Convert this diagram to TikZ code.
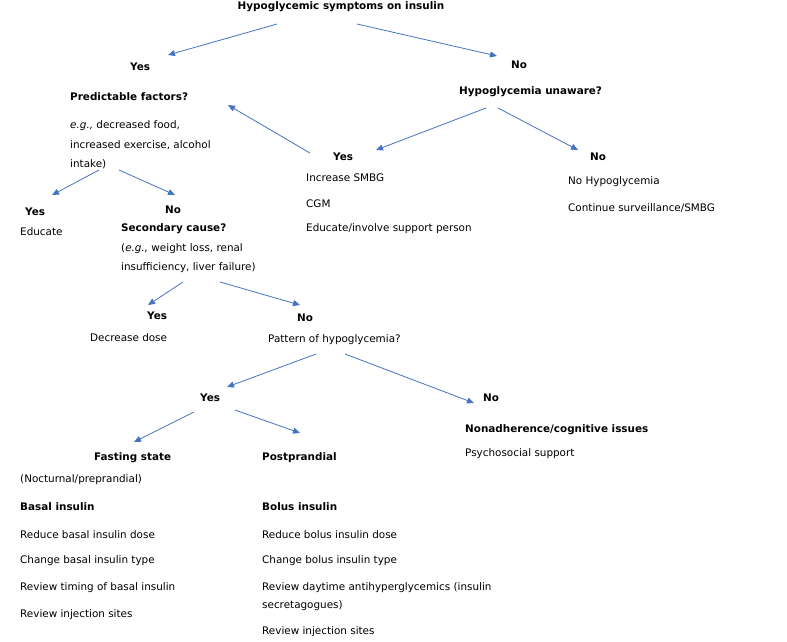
\documentclass[tikz,border=0pt]{standalone}
\usepackage{fontspec}
\setmainfont{DejaVu Sans}
\usetikzlibrary{arrows.meta}
\begin{document}
\begin{tikzpicture}[x=1pt,y=-1pt,
 t/.style={anchor=west,inner sep=0pt,font=\fontsize{10.4}{12}\selectfont},
 b/.style={t,font=\fontsize{10.4}{12}\selectfont\bfseries},
 ar/.style={draw={rgb,255:red,68;green,114;blue,196},line width=0.8pt,-{Triangle[length=7pt,width=6pt]}}]
\useasboundingbox (0,0) rectangle (787,641);
\node[b,anchor=center] (title) at (341,7) {Hypoglycemic symptoms on insulin};
\node[b] (y1) at (130,67) {Yes};
\node[b] (n1) at (511,65) {No};
\node[b] (pf) at (70,97) {Predictable factors?};
\node[t] (e1) at (70,126) {\textit{e.g.,} decreased food,};
\node[t] (e2) at (70,145) {increased exercise, alcohol};
\node[t] (e3) at (70,164) {intake)};
\node[b] (hu) at (459,92) {Hypoglycemia unaware?};
\node[b] (y2) at (333,157) {Yes};
\node[t] (s1) at (306,178) {Increase SMBG};
\node[t] (s2) at (306,204) {CGM};
\node[t] (s3) at (306,229) {Educate/involve support person};
\node[b] (n2) at (590,157) {No};
\node[t] (h1) at (568,182) {No Hypoglycemia};
\node[t] (h2) at (568,208) {Continue surveillance/SMBG};
\node[b] (y3) at (25,212) {Yes};
\node[t] (ed) at (20,232) {Educate};
\node[b] (n3) at (165,210) {No};
\node[b] (sc) at (121,229) {Secondary cause?};
\node[t] (c1) at (121,249) {(\textit{e.g.,} weight loss, renal};
\node[t] (c2) at (121,268) {insufficiency, liver failure)};
\node[b] (y4) at (147,316) {Yes};
\node[t] (dd) at (90,338) {Decrease dose};
\node[b] (n4) at (297,318) {No};
\node[t] (ph) at (268,340) {Pattern of hypoglycemia?};
\node[b] (y5) at (200,398) {Yes};
\node[b] (n5) at (483,398) {No};
\node[b] (fs) at (94,458) {Fasting state};
\node[t] (f1) at (20,480) {(Nocturnal/preprandial)};
\node[b] (f2) at (20,507) {Basal insulin};
\node[t] (f3) at (20,535) {Reduce basal insulin dose};
\node[t] (f4) at (20,561) {Change basal insulin type};
\node[t] (f5) at (20,588) {Review timing of basal insulin};
\node[t] (f6) at (20,615) {Review injection sites};
\node[b] (pp) at (262,458) {Postprandial};
\node[b] (p1) at (262,507) {Bolus insulin};
\node[t] (p2) at (262,535) {Reduce bolus insulin dose};
\node[t] (p3) at (262,561) {Change bolus insulin type};
\node[t] (p4) at (262,588) {Review daytime antihyperglycemics (insulin};
\node[t] (p5) at (262,606) {secretagogues)};
\node[t] (p6) at (262,632) {Review injection sites};
\node[b] (na) at (465,430) {Nonadherence/cognitive issues};
\node[t] (ps) at (465,454) {Psychosocial support};
\foreach \n/\a/\b/\c/\d in {a1/277/24/168/55, a2/357/24/497/56, a3/486/108/376/150, a4/498/108/578/150,
 a5/310/153/228/105, a6/99/170/52/195, a7/119/170/175/195, a8/183/282/148/305, a9/220/282/300/305,
 a10/316/354/227/387, a11/345/354/474/403, a12/194/412/134/442, a13/235/410/300/433}{
 \coordinate (\n s) at (\a,\b); \coordinate (\n e) at (\c,\d);
 \draw[ar] (\n s) -- (\n e);}
\end{tikzpicture}
\end{document}
